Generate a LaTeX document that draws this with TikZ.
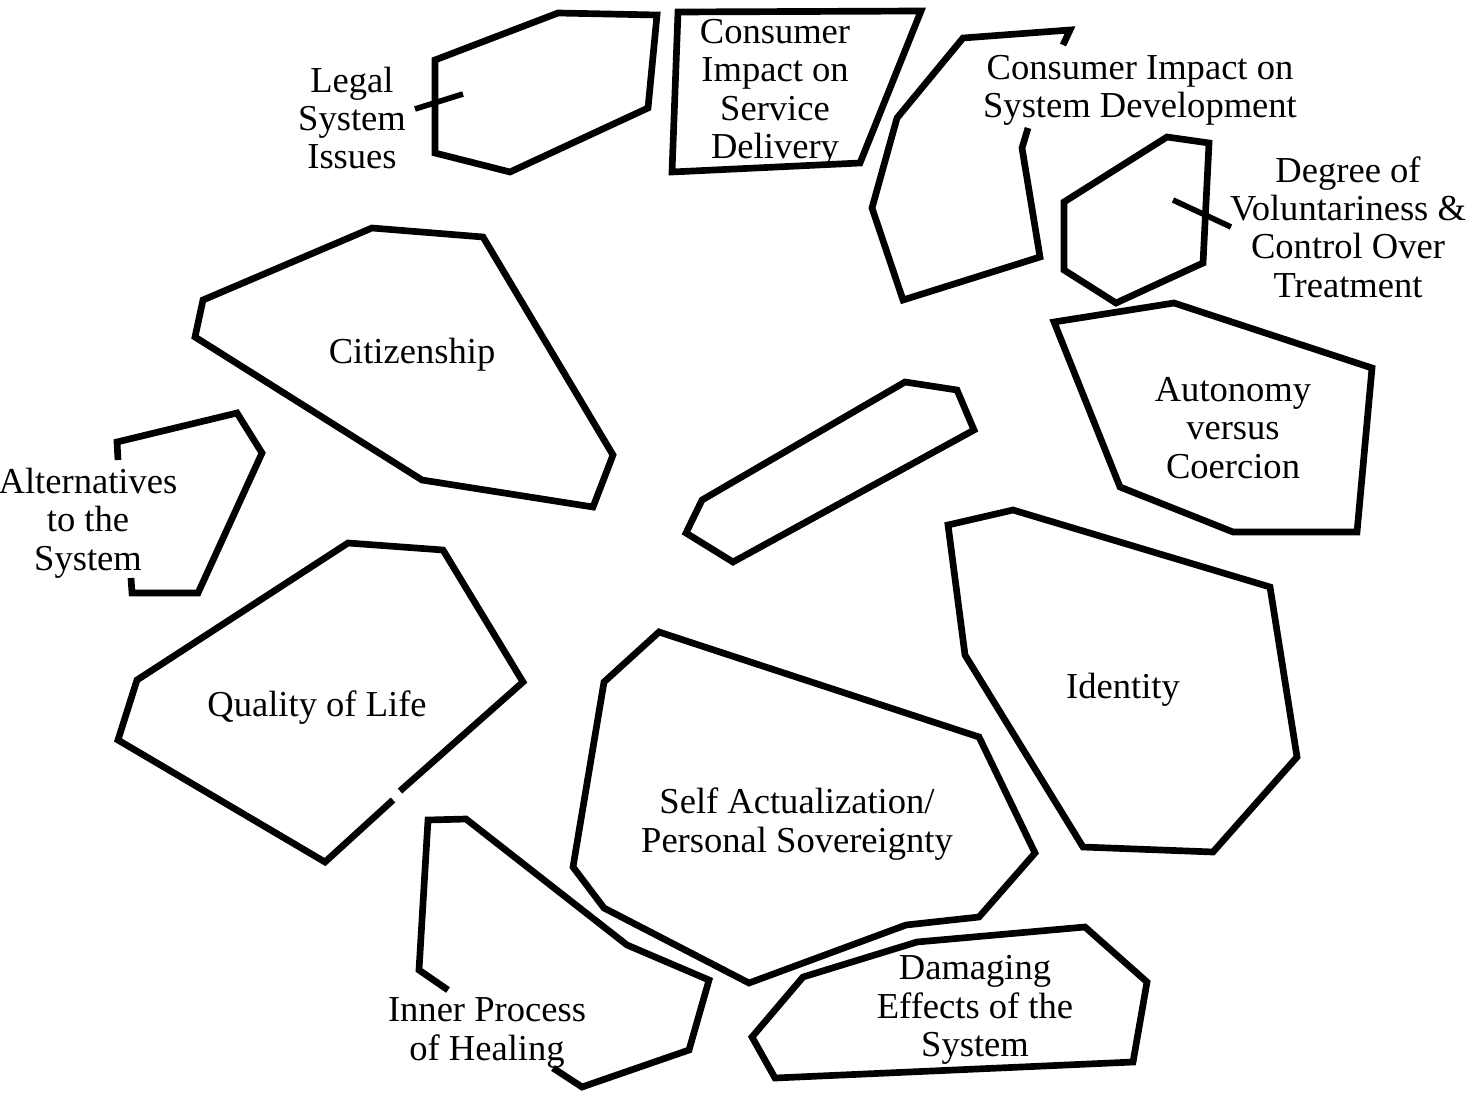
\documentclass[tikz,border=0pt]{standalone}
\usepackage{fontspec}
\setmainfont{Liberation Serif}
\usetikzlibrary{positioning}
\tikzset{blob/.style={line width=1.9pt, line join=miter, line cap=butt}}
\tikzset{lbl/.style={align=center, inner sep=0pt,
    font=\fontsize{10.4}{10.9}\selectfont}}
\tikzset{tick/.style={line width=1.6pt}}

\begin{document}
\begin{tikzpicture}[x=0.1mm, y=-0.1mm]
  \useasboundingbox (0,0) rectangle (1483,1099);

  % ---- top row: legal, service delivery, system development
  \draw[blob] (435,60) -- (558,13) -- (657,15) -- (648,108) -- (510,172) -- (435,153) -- cycle;
  \node[lbl] at (352,118) (legal) {Legal\\System\\Issues};
  \coordinate (legalA) at (415,109);
  \coordinate (legalB) at (463,94);
  \draw[tick] (legalA) -- (legalB);

  \draw[blob] (678,12) -- (921,11) -- (860,163) -- (672,172) -- cycle;
  \node[lbl] at (775,93) (service) {Consumer\\Impact on\\Service\\Delivery};

  \draw[blob] (1063,45) -- (1070,30) -- (963,38) -- (897,118) -- (872,208) -- (903,300)
    -- (1040,257) -- (1022,148) -- (1028,128);
  \node[lbl] at (1140,90) (sysdev) {Consumer Impact on\\System Development};

  % ---- right column
  \draw[blob] (1167,137) -- (1209,143) -- (1203,263) -- (1116,303) -- (1064,270) -- (1064,202) -- cycle;
  \node[lbl] at (1348,227) (degree) {Degree of\\Voluntariness \&\\Control Over\\Treatment};
  \coordinate (degA) at (1173,200);
  \coordinate (degB) at (1231,227);
  \draw[tick] (degA) -- (degB);

  \draw[blob] (1054,322) -- (1174,303) -- (1372,368) -- (1357,532) -- (1233,532) -- (1120,487) -- cycle;
  \node[lbl] at (1233,428) (autonomy) {Autonomy\\versus\\Coercion};

  \draw[blob] (948,525) -- (1013,510) -- (1270,587) -- (1297,757) -- (1213,852) -- (1083,847) -- (965,655) -- cycle;
  \node[lbl] at (1123,690) (identity) {Identity};

  % ---- left column
  \draw[blob] (372,228) -- (483,237) -- (613,455) -- (593,507) -- (422,480) -- (195,337) -- (203,300) -- cycle;
  \node[lbl] at (412,355) (citizen) {Citizenship};

  \draw[blob] (118,460) -- (117,442) -- (237,413) -- (262,453) -- (198,593) -- (132,593) -- (131,578);
  \node[lbl] at (88,523) (altern) {Alternatives\\to the\\System};

  % the outline breaks on its lower right side
  \draw[blob] (400,791) -- (523,682) -- (443,550) -- (348,543) -- (137,680) -- (118,740) -- (325,862) -- (393,800);
  \node[lbl] at (317,708) (quality) {Quality of Life};

  % ---- middle: the empty bar
  \draw[blob] (905,382) -- (957,390) -- (974,430) -- (733,562) -- (686,533) -- (702,500) -- cycle;

  % ---- bottom row
  \draw[blob] (659,632) -- (979,737) -- (1035,853) -- (979,917) -- (906,925) -- (749,983)
    -- (604,908) -- (573,867) -- (604,682) -- cycle;
  \node[lbl] at (797,824) (selfact) {Self Actualization/\\Personal Sovereignty};

  \draw[blob] (448,990) -- (419,970) -- (428,820) -- (466,819) -- (627,945) -- (709,980)
    -- (689,1050) -- (582,1087) -- (553,1068);
  \node[lbl] at (487,1033) (healing) {Inner Process\\of Healing};

  \draw[blob] (803,977) -- (917,942) -- (1085,927) -- (1147,982) -- (1133,1062) -- (775,1078) -- (752,1037) -- cycle;
  \node[lbl] at (975,1010) (damage) {Damaging\\Effects of the\\System};

\end{tikzpicture}
\end{document}
